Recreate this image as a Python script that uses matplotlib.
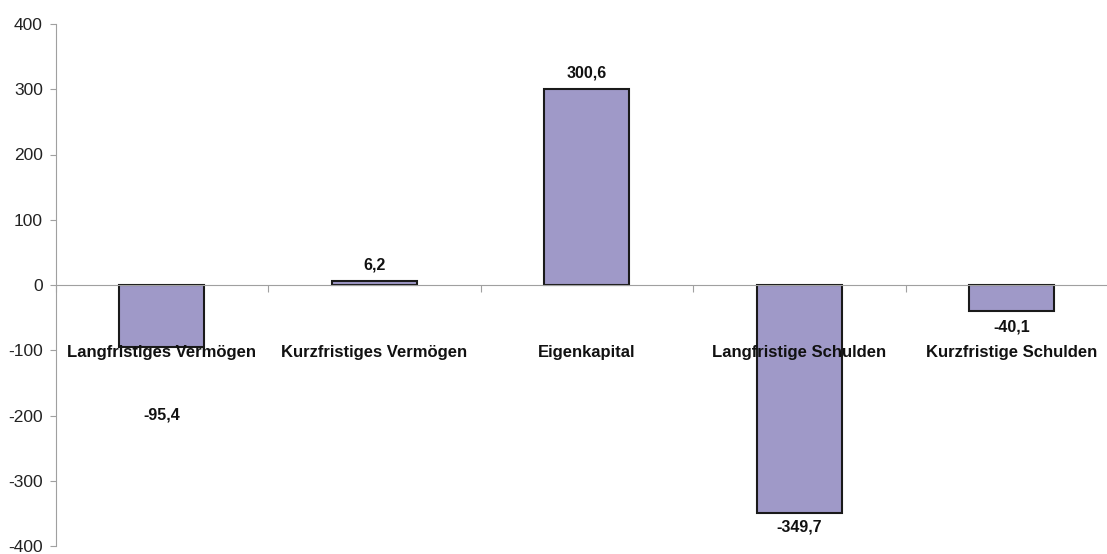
import matplotlib
matplotlib.use("Agg")
import matplotlib.pyplot as plt
import numpy as np

plt.rcParams["font.family"] = ["Liberation Sans", "DejaVu Sans"]
plt.rcParams["axes.unicode_minus"] = False

categories = ["Langfristiges Vermögen", "Kurzfristiges Vermögen", "Eigenkapital",
              "Langfristige Schulden", "Kurzfristige Schulden"]
values = [-95.4, 6.2, 300.6, -349.7, -40.1]
value_labels = ["-95,4", "6,2", "300,6", "-349,7", "-40,1"]
# label distance from bar end in pixels (first one was pushed down below the category name)
label_offsets = [68, 16, 16, 14, 16]

fig = plt.figure(figsize=(11.07, 5.54), dpi=100)
ax = fig.add_axes([55.5 / 1107, 8 / 554, 5 * 212.5 / 1107, 522 / 554])

x = np.arange(len(categories))
ax.bar(x, values, width=0.4, color="#9f99c8", edgecolor="#1a1a1a", linewidth=1.5, zorder=2)

for xi, v, lab, off in zip(x, values, value_labels, label_offsets):
    dy = off if v >= 0 else -off
    ax.annotate(lab, (xi, v), xytext=(0, dy), textcoords="offset pixels",
                ha="center", va="center", fontsize=11.5, fontweight="bold", color="#111111",
                zorder=4)

ax.set_xlim(-0.5, len(categories) - 0.5)
ax.set_ylim(-400, 400)
ax.set_yticks(np.arange(-400, 401, 100))

for s in ["top", "right"]:
    ax.spines[s].set_visible(False)
ax.spines["left"].set_color("#a0a0a0")
ax.spines["bottom"].set_color("#a0a0a0")
ax.spines["bottom"].set_position(("data", 0))

# boundary ticks on the zero line, names at the centres
ax.set_xticks(np.arange(-0.5, len(categories), 1.0))
ax.set_xticklabels([])
ax.set_xticks(x, minor=True)
ax.set_xticklabels(categories, minor=True, fontsize=12, fontweight="bold", color="#111111")
ax.tick_params(axis="x", which="major", direction="out", length=5, color="#a0a0a0")
ax.tick_params(axis="x", which="minor", length=0, pad=43)
ax.tick_params(axis="y", direction="out", length=4, color="#a0a0a0", labelsize=12.5,
               labelcolor="#222222", pad=5)
ax.xaxis.set_zorder(5)  # category names lie on top of the bars

fig.savefig("out.png", dpi=100)
